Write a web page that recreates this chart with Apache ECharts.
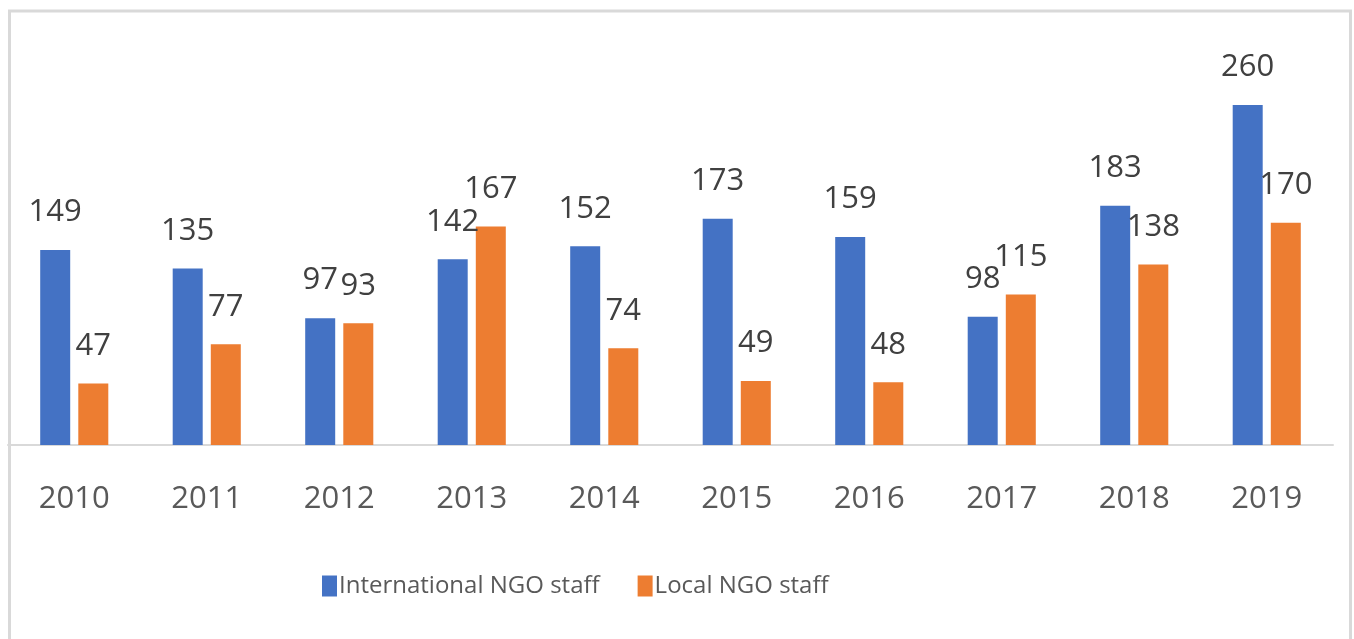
<!DOCTYPE html>
<html>
<head>
<meta charset="utf-8">
<script src="https://cdn.jsdelivr.net/npm/echarts@6/dist/echarts.min.js"></script>
<style>
html, body { margin: 0; padding: 0; background: #fff; }
#chart { width: 1354px; height: 639px; }
</style>
</head>
<body>
<div id="chart"></div>
<script>
// data
var years = ['2010', '2011', '2012', '2013', '2014', '2015', '2016', '2017', '2018', '2019'];
var intlStaff = [149, 135, 97, 142, 152, 173, 159, 98, 183, 260];
var localStaff = [47, 77, 93, 167, 74, 49, 48, 115, 138, 170];
var seriesNames = ['International NGO staff', 'Local NGO staff'];

var chart = echarts.init(document.getElementById('chart'));

var labelStyle = {
	show: true,
	position: 'top',
	distance: 22,
	color: '#404040',
	fontFamily: 'Open Sans',
	fontSize: 31
};

var option = {
	animation: false,
	color: ['#4472C4', '#ED7D31'],
	graphic: [{ // frame round the picture
		type: 'rect',
		silent: true,
		shape: { x: 9.5, y: 11, width: 1341, height: 660 },
		style: { fill: 'none', stroke: '#d9d9d9', lineWidth: 3 }
	}],
	legend: {
		left: 317,
		top: 569,
		itemWidth: 15,
		itemHeight: 21,
		itemGap: 38,
		icon: 'rect',
		textStyle: {
			color: '#595959',
			fontFamily: 'Open Sans',
			fontSize: 24,
			padding: [0, 0, 0, -3]
		},
		data: seriesNames
	},
	grid: {
		left: 8,
		right: 21,
		top: 84,
		bottom: 194
	},
	xAxis: {
		type: 'category',
		data: years,
		axisLine: { lineStyle: { color: '#d9d9d9', width: 2 } },
		axisTick: { show: false },
		axisLabel: {
			margin: 39,
			color: '#595959',
			fontFamily: 'Open Sans',
			fontSize: 31
		}
	},
	yAxis: {
		type: 'value',
		min: 0,
		max: 276,
		show: false,
		splitLine: { show: false }
	},
	series: [{
		name: seriesNames[0],
		type: 'bar',
		barWidth: 30,
		barGap: '27%',
		label: labelStyle,
		data: intlStaff
	}, {
		name: seriesNames[1],
		type: 'bar',
		barWidth: 30,
		label: labelStyle,
		data: localStaff
	}]
};

chart.setOption(option);
</script>
</body>
</html>
